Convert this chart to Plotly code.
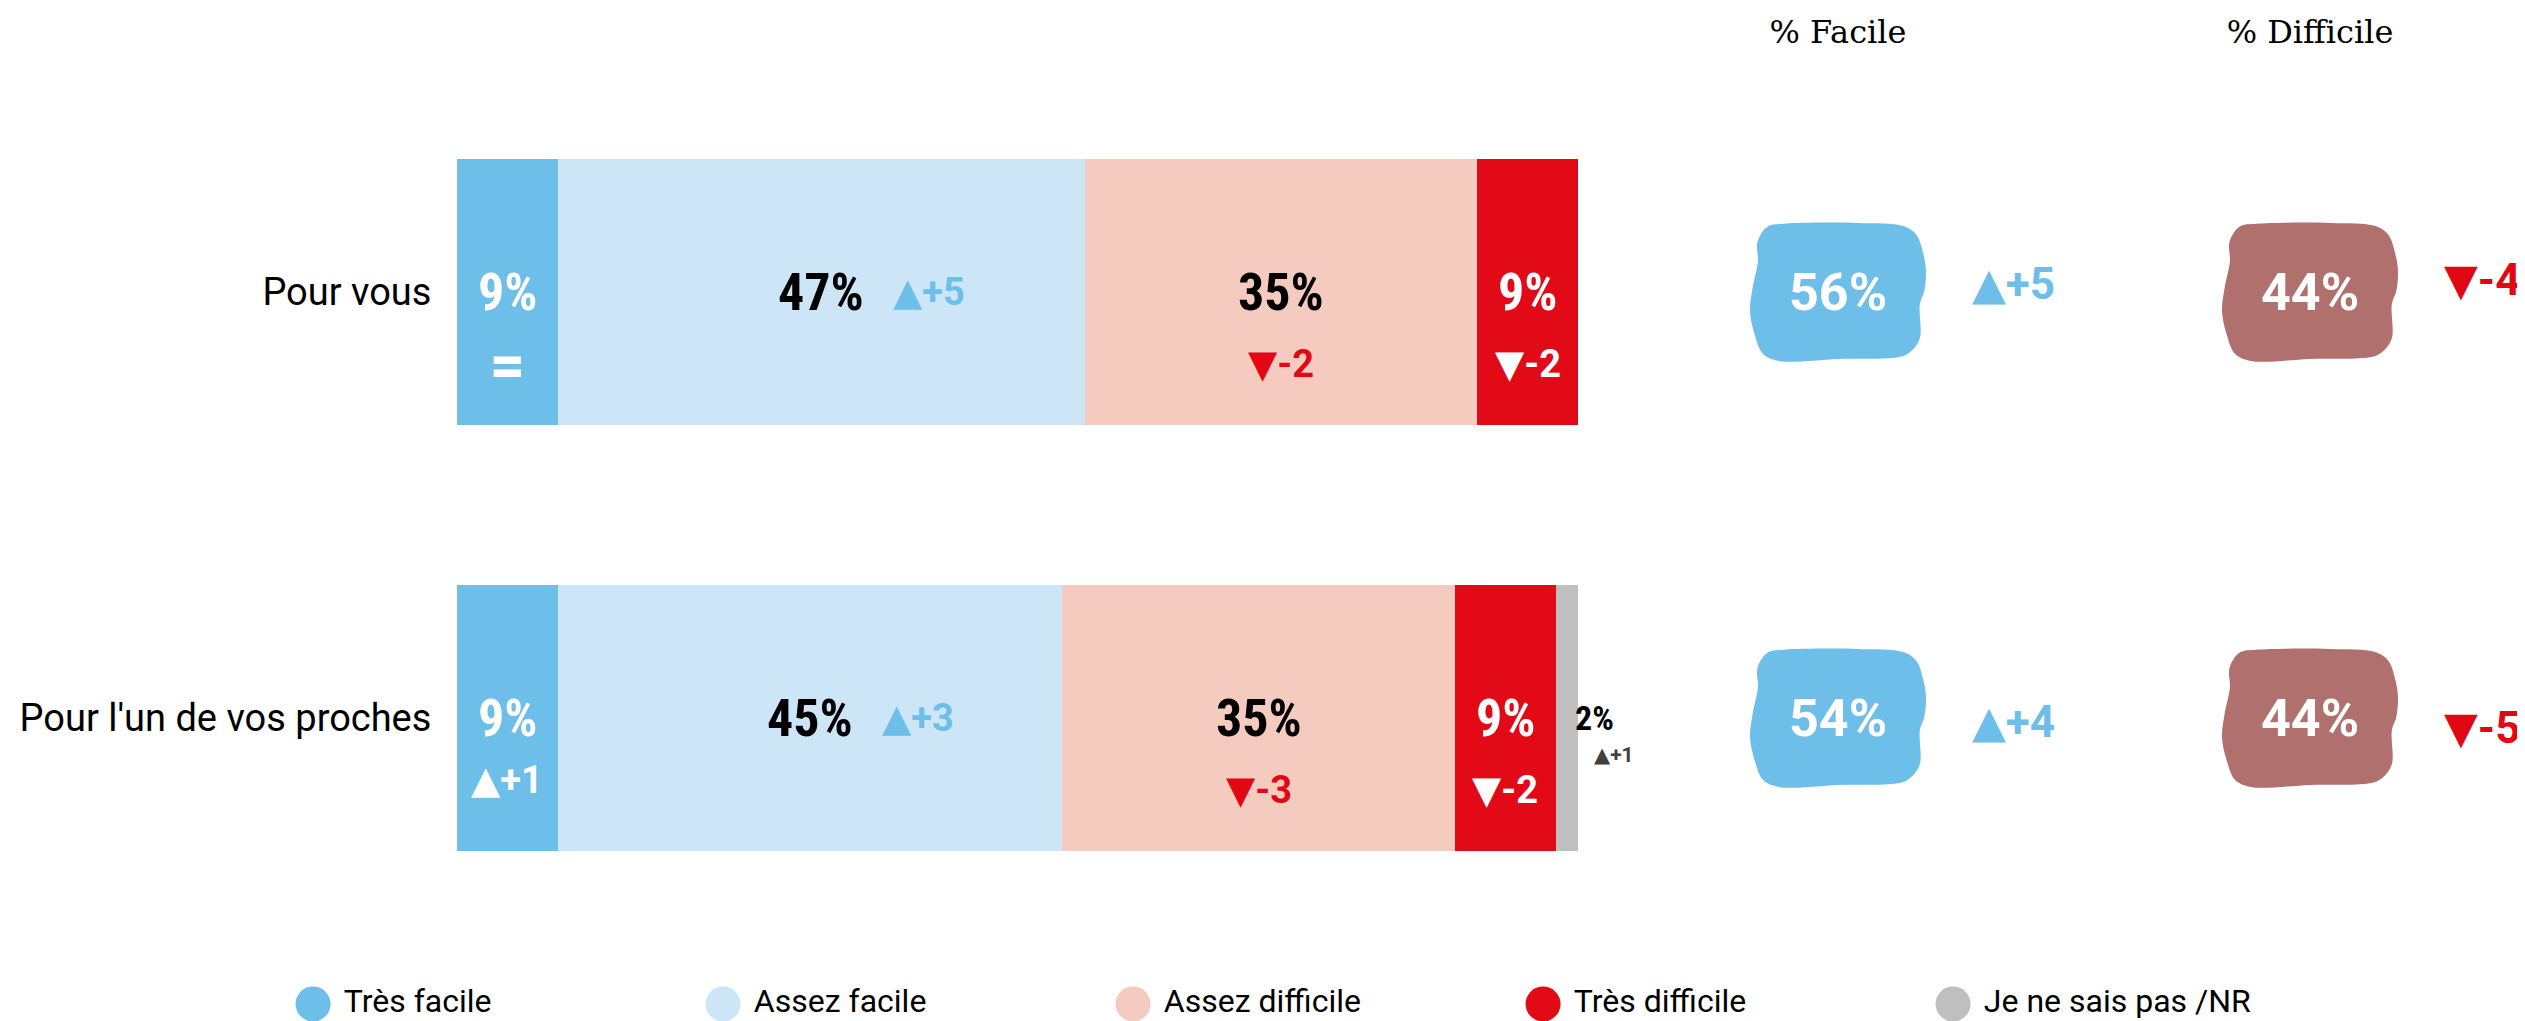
import plotly.graph_objects as go

# ---------------- data ----------------
categories = ["Pour vous", "Pour l'un de vos proches"]
row_pos = [1, 0]  # vertical position of each category

series_names = ["Très facile", "Assez facile", "Assez difficile", "Très difficile", "Je ne sais pas /NR"]
series_colors = ["#6EBEEA", "#CCE6F7", "#F5CBBF", "#E30A17", "#BFBFBF"]

tres_facile = [9, 9]
assez_facile = [47, 45]
assez_difficile = [35, 35]
tres_difficile = [9, 9]
ne_sais_pas = [0, 2]

delta_tres_facile = [0, 1]
delta_assez_facile = [5, 3]
delta_assez_difficile = [-2, -3]
delta_tres_difficile = [-2, -2]
delta_ne_sais_pas = [None, 1]

total_labels = ["% Facile", "% Difficile"]
total_facile = [56, 54]
total_difficile = [44, 44]
delta_facile = [5, 4]
delta_difficile = [-4, -5]

# ---------------- styles ----------------
W, H = 2517, 1013
BLUE = "#6EBEEA"
RED = "#E30613"
BROWN = "#B0706D"
VAL_FONT = "Roboto Condensed, Roboto, Arial, sans-serif"
TXT_FONT = "Roboto, Arial, sans-serif"
SERIF = "DejaVu Serif, Liberation Serif, serif"
TRI = '<span style="font-family:DejaVu Sans">%s</span>'

def fmt_delta(d):
    if d is None:
        return ""
    if d == 0:
        return "="
    return (TRI % "▲") + "+" + str(d) if d > 0 else (TRI % "▼") + str(d)

series_vals = [tres_facile, assez_facile, assez_difficile, tres_difficile, ne_sais_pas]
series_deltas = [delta_tres_facile, delta_assez_facile, delta_assez_difficile,
                 delta_tres_difficile, delta_ne_sais_pas]
val_colors = ["white", "black", "black", "white", "black"]

fig = go.Figure()

for name, vals, col in zip(series_names, series_vals, series_colors):
    fig.add_trace(go.Bar(
        orientation="h", x=vals, y=row_pos, width=0.624,
        marker=dict(color=col, line=dict(width=0)),
        name=name, showlegend=False, hoverinfo="skip",
        xaxis="x", yaxis="y"))

annotations = []

def add_ann(x, y, text, color, size, family, xref="x", yref="y",
            xanchor="center", xshift=0, yshift=0, weight="bold"):
    annotations.append(dict(
        x=x, y=y, xref=xref, yref=yref, text=text,
        showarrow=False, xanchor=xanchor, yanchor="middle",
        xshift=xshift, yshift=yshift,
        font=dict(color=color, size=size, family=family, weight=weight)))

for r, y in enumerate(row_pos):
    cum = 0
    for s, vals in enumerate(series_vals):
        v = vals[r]
        center = cum + v / 2
        cum += v
        if v == 0:
            continue
        d = series_deltas[s][r]
        if s == 4:
            add_ann(center, y, "%d%%" % v, "black", 34, VAL_FONT, xshift=28)
            add_ann(center, y, fmt_delta(d), "#404040", 21, TXT_FONT, xshift=47, yshift=-37)
            continue
        add_ann(center, y, "%d%%" % v, val_colors[s], 52, VAL_FONT)
        if s == 1:
            add_ann(center, y, fmt_delta(d), BLUE, 38, TXT_FONT, xanchor="left", xshift=70)
        elif s == 2:
            add_ann(center, y, fmt_delta(d), RED, 38, TXT_FONT, yshift=-72)
        elif s == 0 and d == 0:
            add_ann(center, y, fmt_delta(d), "white", 60, TXT_FONT, yshift=-72, weight=900)
        else:
            add_ann(center, y, fmt_delta(d), "white", 38, TXT_FONT,
                    yshift=-62 if (s == 0 and d and d > 0) else -72)

blob_uv = [(-0.79, 0.956), (-0.61, 0.99), (0.23, 1.0), (0.74, 0.956), (0.89, 0.83),
           (0.97, 0.55), (1.0, 0.30), (0.98, 0.01), (0.93, -0.18), (0.93, -0.67),
           (0.83, -0.86), (0.71, -0.94), (0.0, -0.97), (-0.67, -1.0), (-0.85, -0.9),
           (-0.95, -0.6), (-1.0, -0.28), (-0.97, 0.06), (-0.91, 0.45), (-0.92, 0.69),
           (-0.88, 0.83), (-0.79, 0.956)]
HX = 88 / 472.0
HY = 69 / 426.0
delta_yshift = [[8, -4], [12, -10]]
for c, (totals, deltas, bcol) in enumerate([
        (total_facile, delta_facile, BLUE),
        (total_difficile, delta_difficile, BROWN)]):
    for r, y in enumerate(row_pos):
        fig.add_trace(go.Scatter(
            x=[c + u * HX for u, v in blob_uv], y=[y + v * HY for u, v in blob_uv],
            mode="lines", fill="toself", fillcolor=bcol,
            line=dict(width=0, shape="spline", color=bcol),
            showlegend=False, hoverinfo="skip", xaxis="x2", yaxis="y"))
        add_ann(c, y, "%d%%" % totals[r], "white", 52, TXT_FONT, xref="x2")
        d = deltas[r]
        add_ann(c, y, fmt_delta(d), BLUE if d > 0 else RED, 44, TXT_FONT, xref="x2",
                xanchor="left", xshift=132, yshift=delta_yshift[c][r])

fig.add_trace(go.Scatter(
    x=series_names, y=[0] * len(series_names), mode="markers+text",
    marker=dict(size=35, color=series_colors, line=dict(width=0)),
    text=["\u00a0" + n for n in series_names], textposition="middle right",
    textfont=dict(family=TXT_FONT, size=32, color="black"),
    cliponaxis=False, showlegend=False, hoverinfo="skip",
    xaxis="x3", yaxis="y3"))

fig.update_layout(
    width=W, height=H,
    margin=dict(l=0, r=0, t=0, b=0),
    paper_bgcolor="white", plot_bgcolor="white",
    barmode="stack", bargap=0,
    showlegend=False,
    annotations=annotations,
    xaxis=dict(domain=[449 / W, 1570 / W], range=[0, 100], visible=False,
               fixedrange=True, anchor="y"),
    yaxis=dict(domain=[90 / H, 942 / H], range=[-0.5, 1.5], tickvals=row_pos,
               ticktext=categories, showgrid=False, zeroline=False, showline=False,
               ticks="outside", ticklen=17, tickcolor="rgba(0,0,0,0)",
               tickfont=dict(family=TXT_FONT, size=38, color="black"), anchor="x"),
    xaxis2=dict(domain=[1586 / W, 1], range=[-0.5169, 1.4555], tickvals=[0, 1],
                ticktext=total_labels, side="top", anchor="y",
                showgrid=False, zeroline=False, showline=False,
                ticks="outside", ticklen=22, tickcolor="rgba(0,0,0,0)",
                tickfont=dict(family=SERIF, size=32, color="black")),
    xaxis3=dict(domain=[0, 1], range=[-0.744, 5.395], visible=False, anchor="y3",
                type="category"),
    yaxis3=dict(domain=[0, 34 / H], range=[-1, 1], visible=False, anchor="x3"),
)

fig.write_html("out.html")
